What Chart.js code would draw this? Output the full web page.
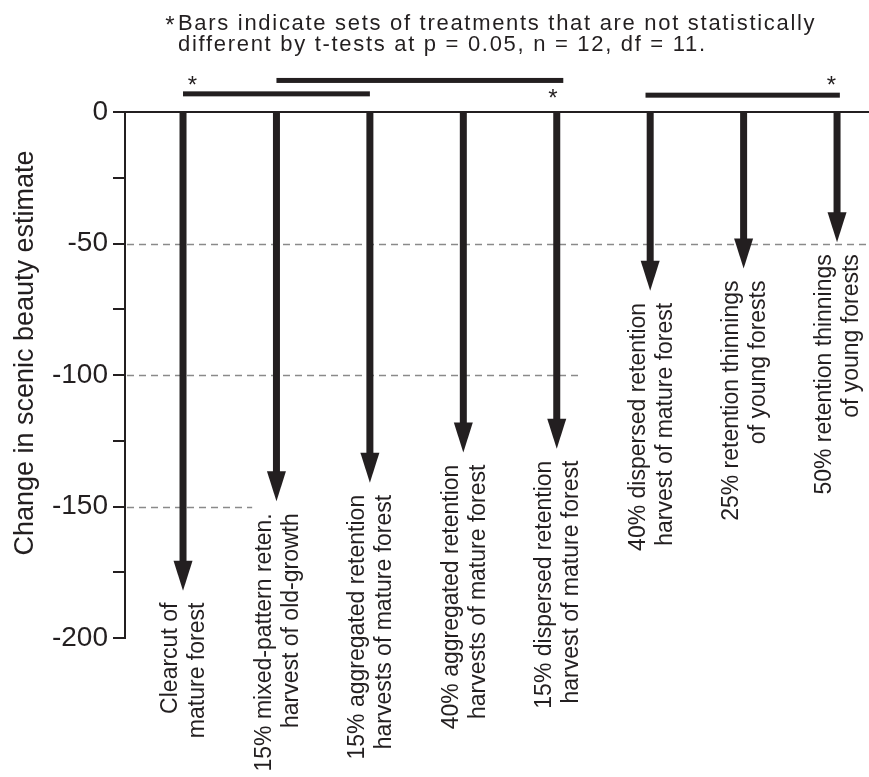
<!DOCTYPE html>
<html>
<head>
<meta charset="utf-8">
<script src="https://cdn.jsdelivr.net/npm/chart.js@4.4.0/dist/chart.umd.min.js"></script>
<style>
  html, body { margin: 0; padding: 0; background: #fff; }
</style>
</head>
<body>
<canvas id="myChart" width="869" height="777"></canvas>
<script>
// treatments, left to right (two text lines each)
const treatments = [
  ["Clearcut of", "mature forest"],
  ["15% mixed-pattern reten.", "harvest of old-growth"],
  ["15% aggregated retention", "harvests of mature forest"],
  ["40% aggregated retention", "harvests of mature forest"],
  ["15% dispersed retention", "harvest of mature forest"],
  ["40% dispersed retention", "harvest of mature forest"],
  ["25% retention thinnings", "of young forests"],
  ["50% retention thinnings", "of young forests"],
];
const positions = [1, 2, 3, 4, 5, 6, 7, 8];
const changes = [-182, -148, -141, -129.5, -128, -68, -59.5, -49.5];
const yTicks = [0, -50, -100, -150, -200];
const yTitle = "Change in scenic beauty estimate";

// dashed reference lines and where they stop (x units)
const refLines = [-50, -100, -150];
const refEnds = [8.342, 5.25, 1.74];

// bars of "not statistically different" sets
const sigFrom = [1, 2, 5.95];
const sigTo = [3, 5.07, 8.03];
const sigLevel = [6.9, 12, 6.4];
const starX = [1.1, 4.96, 7.94];
const starY = [11.4, 6.45, 11.4];

const note = [
  "Bars indicate sets of treatments that are not statistically",
  "different by t-tests at p = 0.05, n = 12, df = 11.",
];

const ink = "#231f20";
const fontFam = '"Liberation Sans", Arial, Helvetica, sans-serif';

function drawStar(ctx, cx, cy) {
  // asterisk glyph centred on (cx, cy)
  ctx.font = "24px " + fontFam;
  ctx.textAlign = "center";
  ctx.textBaseline = "alphabetic";
  ctx.fillText("*", cx, cy + 11);
}

const arrowPlugin = {
  id: "arrows",
  beforeDatasetsDraw(chart) {
    const { ctx, scales: { x, y } } = chart;
    ctx.save();
    ctx.strokeStyle = "#8a8a8a";
    ctx.lineWidth = 1.5;
    ctx.setLineDash([7, 5]);
    refLines.forEach((v, i) => {
      const py = Math.round(y.getPixelForValue(v)) + 0.5;
      ctx.beginPath();
      ctx.moveTo(x.left + 2, py);
      ctx.lineTo(x.getPixelForValue(refEnds[i]), py);
      ctx.stroke();
    });
    ctx.restore();
  },
  afterDatasetsDraw(chart) {
    const { ctx, scales: { x, y } } = chart;
    const meta = chart.getDatasetMeta(0);
    const y0 = y.getPixelForValue(0);
    const headLen = 30;
    ctx.save();
    ctx.fillStyle = ink;
    meta.data.forEach((pt, i) => {
      const px = pt.x;
      const tip = pt.y;
      // shaft + head
      ctx.fillRect(px - 3.5, y0, 7, tip - headLen - y0 + 2);
      ctx.beginPath();
      ctx.moveTo(px - 9.5, tip - headLen);
      ctx.lineTo(px + 9.5, tip - headLen);
      ctx.lineTo(px, tip);
      ctx.closePath();
      ctx.fill();
      // rotated label under the tip
      ctx.save();
      ctx.translate(px, tip + 12);
      ctx.rotate(-Math.PI / 2);
      ctx.font = "23px " + fontFam;
      ctx.textAlign = "right";
      ctx.textBaseline = "middle";
      ctx.fillText(treatments[i][0], 0, -12);
      ctx.fillText(treatments[i][1], 0, 15);
      ctx.restore();
    });

    // significance bars
    sigFrom.forEach((from, i) => {
      const py = y.getPixelForValue(sigLevel[i]);
      const x1 = x.getPixelForValue(from);
      const x2 = x.getPixelForValue(sigTo[i]);
      ctx.fillRect(x1, py - 2.5, x2 - x1, 5);
    });
    starX.forEach((sx, i) => {
      drawStar(ctx, x.getPixelForValue(sx), y.getPixelForValue(starY[i]));
    });
    ctx.restore();
  },
  afterDraw(chart) {
    const { ctx, scales: { y } } = chart;
    ctx.save();
    ctx.fillStyle = ink;
    // footnote at the top
    drawStar(ctx, 170, 22);
    ctx.font = "22px " + fontFam;
    ctx.textAlign = "left";
    ctx.textBaseline = "alphabetic";
    ctx.letterSpacing = "1.7px";
    ctx.fillText(note[0], 178, 30);
    ctx.fillText(note[1], 178, 51);
    ctx.letterSpacing = "0px";
    // y axis title
    ctx.translate(0, 353);
    ctx.rotate(-Math.PI / 2);
    ctx.font = "27px " + fontFam;
    ctx.textAlign = "center";
    ctx.fillText(yTitle, 0, 33);
    ctx.restore();
  },
};

const ctx = document.getElementById("myChart");
new Chart(ctx, {
  type: "scatter",
  data: {
    datasets: [
      {
        data: positions.map((p, i) => ({ x: p, y: changes[i] })),
        pointRadius: 0,
        pointHoverRadius: 0,
        clip: false,
      },
    ],
  },
  options: {
    responsive: false,
    animation: false,
    layout: { padding: { top: 112, bottom: 139, left: 0, right: 0 } },
    plugins: {
      legend: { display: false },
      tooltip: { enabled: false },
    },
    scales: {
      x: {
        type: "linear",
        position: "top",
        min: 0.379,
        max: 8.342,
        ticks: { display: false },
        grid: { display: false },
        border: { display: true, color: ink, width: 2 },
        afterFit: (s) => { s.height = 0; },
      },
      y: {
        min: -200,
        max: 0,
        afterFit: (s) => { s.width = 125; },
        ticks: {
          stepSize: 25,
          color: ink,
          font: { size: 28, family: fontFam },
          padding: 5,
          callback: (v) => (yTicks.includes(v) ? String(v) : ""),
        },
        grid: {
          drawOnChartArea: false,
          drawTicks: true,
          tickLength: 12,
          color: ink,
          lineWidth: 2,
        },
        border: { display: true, color: ink, width: 2 },
        title: { display: false },
      },
    },
  },
  plugins: [arrowPlugin],
});
</script>
</body>
</html>
